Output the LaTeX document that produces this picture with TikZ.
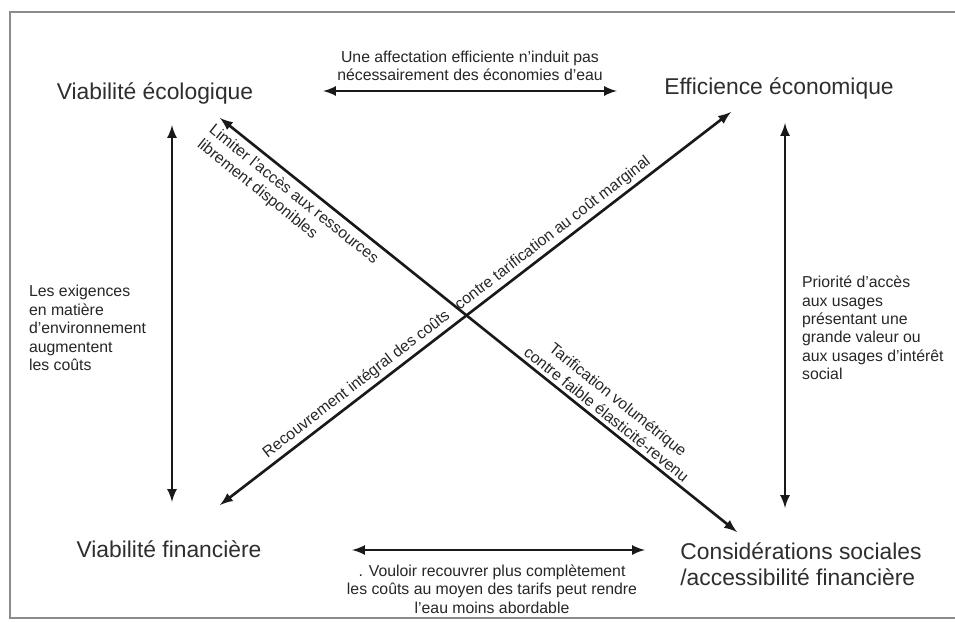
\documentclass[tikz,border=0pt]{standalone}
\usepackage{fontspec}
\setmainfont{Liberation Sans}
\usetikzlibrary{arrows}

\tikzset{
  pole/.style={font=\fontsize{13}{14.5}\selectfont, text=black!82, inner sep=0pt},
  note/.style={font=\fontsize{9}{10.5}\selectfont, text=black!85, inner sep=1pt},
  link/.style={<->, >=latex, line width=1.5pt, black!90},
}

\begin{document}
\begin{tikzpicture}[x=0.02cm, y=-0.02cm, line cap=round]
        \useasboundingbox (0,0) rectangle (955,621);
        \draw[black!45, line width=0.6pt] (955,12) -- (10,12) -- (10,618) -- (955,618);   %frame
        \node[pole] (eco) at (155,93) {Viabilité écologique};
        \node[pole] (eff) at (779,88) {Efficience économique};
        \node[pole] (fin) at (169,549) {Viabilité financière};
        \node[pole, anchor=west, align=left] (soc) at (680,564) {Considérations sociales\\/accessibilité financière};
        % end points of the arrows
        \coordinate (ht1) at (323,91);   \coordinate (ht2) at (617,91);
        \coordinate (hb1) at (352,550);  \coordinate (hb2) at (645,550);
        \coordinate (vl1) at (172,125);  \coordinate (vl2) at (172,502);
        \coordinate (vr1) at (785,123);  \coordinate (vr2) at (785,508);
        \coordinate (da1) at (220,505);  \coordinate (da2) at (731,112);   %recouvrement
        \coordinate (db1) at (220,118);  \coordinate (db2) at (737,532);   %limiter
        \draw [link] (ht1) -- (ht2);
        \draw [link] (hb1) -- (hb2);
        \draw [link] (vl1) -- (vl2);
        \draw [link] (vr1) -- (vr2);
        \draw [link] (da1) -- (da2)
              node[note, pos=0.282, sloped, above, inner sep=2pt] (rec) {Recouvrement intégral des coûts}
              node[note, pos=0.666, sloped, above, inner sep=2pt] (tar) {contre tarification au coût marginal};
        \draw [link] (db1) -- (db2)
              node[note, pos=0.0, sloped, anchor=north west, align=left, inner sep=3pt, xshift=-4pt] (lim) {Limiter l'accès aux ressources\\librement disponibles}
              node[note, pos=0.735, sloped, above, align=center, inner sep=2pt] (vol) {Tarification volumétrique\\contre faible élasticité-revenu};
        % texts beside the arrows
        \node[note, align=center] (aff) at (470,66) {Une affectation efficiente n'induit pas\\nécessairement des économies d'eau};
        \node[note, align=center] (vou) at (492,589) {. Vouloir recouvrer plus complètement\\les coûts au moyen des tarifs peut rendre\\l'eau moins abordable};
        \node[note, anchor=west, align=left] (exi) at (27,328) {Les exigences\\en matière\\d'environnement\\augmentent\\les coûts};
        \node[note, anchor=west, align=left] (pri) at (800,328) {Priorité d'accès\\aux usages\\présentant une\\grande valeur ou\\aux usages d'intérêt\\social};
\end{tikzpicture}
\end{document}
